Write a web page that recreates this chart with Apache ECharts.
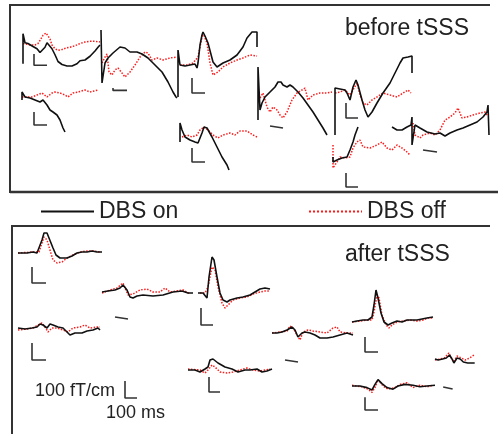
<!DOCTYPE html>
<html>
<head>
<meta charset="utf-8">
<title>DBS on / off traces</title>
<script src="https://cdn.jsdelivr.net/npm/echarts@6/dist/echarts.min.js"></script>
<style>
html, body { margin: 0; padding: 0; background: #fff; }
#main { width: 498px; height: 434px; }
</style>
</head>
<body>
<div id="main"></div>
<script>
// each trace: [time ms from trace start, amplitude]; Bar = the little L scale of that trace

// ---- before tSSS ----
var t1On = [[10,-125],[10,75],[30,15],[60,10],[80,0],[110,-10],[150,-25],[180,-50],[200,-60],[230,-15],[250,15],[270,10],[300,-25],[330,-65],[360,-110],[400,-130],[450,-140],[500,-140],[550,-125],[580,-105],[630,-100],[680,-75],[730,-40],[760,-15],[780,0]];
var t1Off = [[10,10],[50,5],[80,0],[130,0],[160,10],[180,30],[210,65],[240,80],[260,70],[280,40],[300,0],[330,-25],[360,-35],[400,-30],[440,-20],[480,-15],[530,-5],[580,10],[630,20],[680,25],[730,25],[780,20]];
var t1Bar = [[120,-60],[120,-135],[250,-135]];

var t2On = [[0,150],[10,-115],[40,-15],[70,10],[120,35],[190,65],[210,75],[240,60],[290,40],[360,40],[410,30],[470,10],[540,-25],[610,-60],[670,-110],[720,-160],[750,-185],[760,-190]];
var t2Off = [[10,-15],[40,15],[60,30],[80,-60],[110,-75],[140,-50],[170,-40],[210,-65],[240,-85],[290,-60],[340,-25],[390,15],[440,40],[470,35],[510,0],[560,10],[620,0],[690,10],[760,15]];
var t2Bar = [[120,-140],[120,-152],[260,-152]];

var t3On = [[0,-160],[0,75],[20,0],[70,-5],[120,0],[170,5],[190,-15],[200,10],[220,100],[240,150],[250,165],[270,145],[300,110],[350,15],[390,-10],[450,10],[520,25],[590,50],[650,90],[690,135],[740,165],[790,165],[790,90]];
var t3Off = [[20,0],[90,0],[150,10],[200,40],[240,140],[250,160],[290,110],[320,10],[350,-50],[400,-35],[450,-10],[520,10],[590,25],[650,35],[720,50],[740,60],[790,45]];
var t3Bar = [[140,-65],[140,-140],[270,-140]];

var t4On = [[0,-125],[0,140],[20,-75],[40,-40],[70,-10],[120,15],[170,40],[200,65],[230,65],[250,50],[290,40],[320,50],[350,40],[400,15],[450,-15],[500,-50],[550,-85],[600,-125],[650,-165],[690,-200]];
var t4Off = [[20,-15],[50,10],[90,-60],[120,-85],[150,-60],[190,-75],[220,-100],[250,-115],[290,-85],[340,-25],[390,10],[440,25],[470,35],[500,-25],[550,0],[620,10],[690,10],[740,15]];
var t4Bar = [[120,-155],[120,-165],[250,-165]];

var t5On = [[0,-225],[0,10],[50,5],[100,0],[120,-15],[150,-50],[170,-40],[180,15],[210,50],[230,25],[270,-50],[300,-100],[330,-135],[370,-110],[420,-65],[480,-15],[550,35],[600,85],[650,135],[680,160],[730,165],[770,170],[770,85]];
var t5Off = [[0,-15],[50,-10],[100,0],[150,-25],[180,0],[220,35],[250,-25],[280,-65],[320,-75],[370,-50],[420,-35],[480,-15],[550,-25],[620,-35],[680,-15],[730,0],[760,-15]];
var t5Bar = [[110,-65],[110,-140],[230,-140]];

var t6On = [[0,-15],[0,25],[30,0],[80,-5],[130,-15],[180,-25],[210,-15],[250,-40],[280,-65],[310,-75],[350,-90],[380,-115],[410,-155],[430,-175]];
var t6Off = [[0,0],[50,0],[100,0],[150,10],[200,20],[250,0],[300,20],[330,25],[380,20],[430,10],[460,0],[510,20],[560,25],[630,35],[680,25],[760,35]];
var t6Bar = [[120,-75],[120,-140],[250,-140]];

var t7On = [[0,-35],[0,60],[20,25],[50,-10],[100,-25],[150,-35],[180,-40],[220,10],[240,40],[270,35],[320,-10],[370,-60],[420,-110],[470,-150],[490,-175]];
var t7Off = [[20,-10],[70,0],[120,-10],[170,0],[200,25],[240,40],[280,25],[330,0],[380,-15],[430,0],[500,10],[550,0],[600,20],[670,20],[730,0],[770,-10]];
var t7Bar = [[120,-65],[120,-135],[250,-135]];

var t8On = [[0,0],[0,-25],[40,-15],[90,-5],[140,0],[170,35],[200,75],[220,110],[250,150]];
var t8Off = [[0,60],[0,-55],[40,-25],[70,0],[120,-5],[170,0],[200,45],[240,75],[270,85],[300,50],[370,45],[440,60],[490,75],[540,45],[590,35],[640,60],[690,45],[740,25],[770,10]];
var t8Bar = [[130,-80],[130,-150],[250,-150]];

var t9On = [[0,0],[50,-15],[100,-15],[150,0],[190,10],[200,50],[200,-90],[230,10],[280,-5],[350,-25],[430,-35],[480,-30],[530,-45],[580,-30],[650,-15],[710,-5],[780,10],[850,25],[910,50],[950,75],[960,110],[970,-40]];
var t9Off = [[210,20],[230,-40],[280,-55],[310,-40],[380,-30],[430,-40],[480,-15],[530,35],[580,50],[630,70],[660,95],[700,45],[750,50],[810,60],[880,70],[930,75],[950,60]];
var t9Bar = [[310,-115],[310,-125],[450,-125]];

// ---- after tSSS ----
var b1On = [[0,0],[90,0],[150,5],[190,0],[210,5],[240,65],[260,100],[290,100],[310,75],[350,25],[380,-10],[420,-25],[490,-25],[540,-15],[590,0],[640,5],[690,5],[740,10],[790,5],[840,5]];
var b1Off = [[0,0],[150,5],[210,5],[240,50],[260,80],[290,65],[320,15],[350,-35],[390,-50],[440,-45],[490,-25],[550,-10],[620,5],[690,10],[750,10],[820,5]];
var b1Bar = [[140,-70],[140,-150],[280,-150]];

var b2On = [[0,0],[60,5],[130,10],[180,20],[210,35],[250,10],[280,-25],[310,-30],[350,-20],[410,-15],[510,-20],[610,-15],[710,0],[800,5],[860,-5],[910,-5]];
var b2Off = [[0,-5],[80,10],[150,20],[210,45],[230,35],[260,-15],[310,-10],[380,10],[450,15],[510,0],[580,0],[630,20],[680,0],[750,5],[810,10],[880,-10]];
var b2Bar = [[130,-125],[130,-135],[260,-135]];

var b3On = [[0,0],[50,0],[90,-25],[110,80],[140,180],[160,165],[190,80],[220,0],[250,-35],[290,-45],[320,-35],[390,-25],[450,-20],[520,-10],[570,5],[620,20],[670,25],[720,20]];
var b3Off = [[20,0],[70,0],[100,30],[140,130],[170,115],[200,30],[240,-50],[270,-75],[300,-60],[350,-35],[420,-25],[490,-20],[550,-5],[620,5],[670,10],[720,10]];
var b3Bar = [[30,-75],[30,-160],[150,-160]];

var b4On = [[0,0],[70,-5],[140,0],[190,5],[220,20],[250,15],[290,0],[320,20],[350,15],[400,5],[450,0],[520,-35],[570,-25],[640,-25],[690,-15],[750,-10],[800,0],[820,-10]];
var b4Off = [[0,-10],[90,-5],[150,0],[200,15],[240,25],[270,5],[300,-20],[340,0],[390,0],[450,-10],[500,-20],[550,0],[620,5],[670,15],[720,0],[790,5],[820,5]];
var b4Bar = [[140,-75],[140,-160],[280,-160]];

var b5On = [[0,0],[50,0],[100,5],[150,15],[200,30],[230,15],[260,-20],[300,0],[330,5],[380,0],[430,-10],[480,-25],[550,-25],[610,-20],[680,-10],[750,0],[810,-10]];
var b5Off = [[0,0],[80,5],[150,10],[180,35],[210,25],[250,-10],[280,-35],[310,5],[360,15],[410,10],[480,5],[550,0],[610,25],[650,30],[680,5],[750,0],[810,0]];
var b5Bar = [[130,-135],[130,-145],[260,-145]];

var b6On = [[0,0],[70,0],[120,-10],[170,5],[200,15],[220,50],[250,55],[300,35],[370,15],[440,5],[500,-10],[570,0],[620,0],[690,5],[740,-10],[790,-5],[840,5]];
var b6Off = [[0,5],[120,0],[170,-15],[200,0],[240,25],[270,15],[320,-10],[390,-15],[450,-10],[520,0],[590,10],[650,0],[720,-5],[770,0],[820,5]];
var b6Bar = [[210,-35],[210,-110],[320,-110]];

var b7On = [[0,-10],[50,-5],[110,0],[160,0],[200,15],[220,75],[240,150],[260,110],[290,35],[320,-10],[360,-25],[400,-15],[450,-5],[500,-10],[550,0],[600,0],[650,0],[700,5],[750,10],[810,15]];
var b7Off = [[0,-10],[80,-5],[160,0],[200,0],[220,40],[250,125],[270,110],[300,25],[340,-25],[370,-40],[400,-25],[450,-10],[510,-5],[580,0],[650,-5],[710,0],[760,10],[810,10]];
var b7Bar = [[130,-85],[130,-160],[260,-160]];

var b8On = [[0,0],[50,-5],[120,0],[180,5],[230,20],[270,0],[300,-20],[350,5],[400,0],[450,-15],[520,-20],[580,-20],[630,-20]];
var b8Off = [[0,-5],[80,0],[150,5],[220,30],[250,10],[300,-15],[350,15],[420,5],[480,-5],[550,5],[620,20]];
var b8Bar = [[130,-140],[130,-150],[280,-150]];

var b9On = [[0,0],[80,0],[150,-10],[200,-25],[230,10],[260,40],[300,15],[350,-10],[410,-20],[460,0],[530,10],[610,5],[680,-5],[750,0],[830,5]];
var b9Off = [[0,5],[100,-5],[160,-20],[200,-40],[230,-10],[260,40],[280,30],[310,0],[360,-20],[430,-10],[480,10],[550,20],[610,-10],[680,5],[750,-5],[810,5]];
var b9Bar = [[130,-70],[130,-150],[260,-150]];

// calibration: 100 ms x 100 fT/cm
var scaleBar = [[0,100],[0,0],[100,0]];

// where each trace sits (left edge and baseline, px)
var traces = [
  {on: t1On, off: t1Off, bar: t1Bar, left: 22, mid: 30},
  {on: t2On, off: t2Off, bar: t2Bar, left: 101, mid: 60},
  {on: t3On, off: t3Off, bar: t3Bar, left: 178, mid: 65},
  {on: t4On, off: t4Off, bar: t4Bar, left: 258, mid: 95},
  {on: t5On, off: t5Off, bar: t5Bar, left: 335, mid: 90},
  {on: t6On, off: t6Off, bar: t6Bar, left: 22, mid: 97},
  {on: t7On, off: t7Off, bar: t7Bar, left: 180, mid: 135},
  {on: t8On, off: t8Off, bar: t8Bar, left: 333, mid: 157},
  {on: t9On, off: t9Off, bar: t9Bar, left: 392, mid: 127},
  {on: b1On, off: b1Off, bar: b1Bar, left: 18, mid: 253},
  {on: b2On, off: b2Off, bar: b2Bar, left: 102, mid: 292},
  {on: b3On, off: b3Off, bar: b3Bar, left: 198, mid: 293},
  {on: b4On, off: b4Off, bar: b4Bar, left: 18, mid: 328},
  {on: b5On, off: b5Off, bar: b5Bar, left: 272, mid: 333},
  {on: b6On, off: b6Off, bar: b6Bar, left: 188, mid: 370},
  {on: b7On, off: b7Off, bar: b7Bar, left: 352, mid: 320},
  {on: b8On, off: b8Off, bar: b8Bar, left: 435, mid: 359},
  {on: b9On, off: b9Off, bar: b9Bar, left: 352, mid: 398}
];

var FONT = '"Liberation Sans", Arial, Helvetica, sans-serif';
var myChart = echarts.init(document.getElementById('main'));

var grids = [], xAxes = [], yAxes = [], series = [];

traces.forEach(function (tr, i) {
  grids.push({left: tr.left, top: tr.mid - 60, width: 100, height: 120});
  xAxes.push({type: 'value', gridIndex: i, min: 0, max: 1000, show: false});
  yAxes.push({type: 'value', gridIndex: i, min: -300, max: 300, show: false});
  series.push({
    name: 'DBS off', type: 'line', xAxisIndex: i, yAxisIndex: i, data: tr.off,
    symbol: 'none', clip: false, z: 2,
    lineStyle: {color: '#ff1a1a', width: 1.5, type: 'dotted'},
    itemStyle: {color: '#ff1a1a'}
  });
  series.push({
    name: 'DBS on', type: 'line', xAxisIndex: i, yAxisIndex: i, data: tr.on,
    symbol: 'none', clip: false, z: 3,
    lineStyle: {color: '#111', width: 1.6},
    itemStyle: {color: '#111'}
  });
  series.push({
    name: 'scale' + i, type: 'line', xAxisIndex: i, yAxisIndex: i, data: tr.bar,
    symbol: 'none', clip: false, z: 3,
    lineStyle: {color: '#333', width: 1.6}
  });
});

// calibration L
var k = traces.length;
grids.push({left: 125, top: 381, width: 12, height: 17});
xAxes.push({type: 'value', gridIndex: k, min: 0, max: 100, show: false});
yAxes.push({type: 'value', gridIndex: k, min: 0, max: 100, show: false});
series.push({
  name: 'calib', type: 'line', xAxisIndex: k, yAxisIndex: k, data: scaleBar,
  symbol: 'none', clip: false, lineStyle: {color: '#333', width: 1.6}
});

var legendText = {fontSize: 23, color: '#222', fontFamily: FONT};

var option = {
  animation: false,
  backgroundColor: '#fff',
  grid: grids,
  xAxis: xAxes,
  yAxis: yAxes,
  legend: [
    {data: ['DBS on'], left: 35, top: 195, itemWidth: 53, itemHeight: 14, selectedMode: false,
      itemStyle: {opacity: 0}, textStyle: legendText},
    {data: ['DBS off'], left: 303, top: 195, itemWidth: 53, itemHeight: 14, selectedMode: false,
      itemStyle: {opacity: 0}, textStyle: legendText}
  ],
  graphic: [
    {type: 'line', shape: {x1: 10, y1: 5, x2: 490, y2: 5}, style: {stroke: '#333', lineWidth: 2}},
    {type: 'line', shape: {x1: 10, y1: 4, x2: 10, y2: 193}, style: {stroke: '#333', lineWidth: 2}},
    {type: 'line', shape: {x1: 10, y1: 192, x2: 498, y2: 192}, style: {stroke: '#333', lineWidth: 2.5}},
    {type: 'line', shape: {x1: 12, y1: 226, x2: 490, y2: 226}, style: {stroke: '#333', lineWidth: 2}},
    {type: 'line', shape: {x1: 12, y1: 225, x2: 12, y2: 434}, style: {stroke: '#333', lineWidth: 2}},
    {type: 'text', x: 345, y: 29, style: {text: 'before tSSS', fontSize: 23, fontFamily: FONT, fill: '#222', verticalAlign: 'middle'}},
    {type: 'text', x: 345, y: 255, style: {text: 'after tSSS', fontSize: 23, fontFamily: FONT, fill: '#222', verticalAlign: 'middle'}},
    {type: 'text', x: 35, y: 391, style: {text: '100 fT/cm', fontSize: 18, fontFamily: FONT, fill: '#222', verticalAlign: 'middle'}},
    {type: 'text', x: 106, y: 413, style: {text: '100 ms', fontSize: 18, fontFamily: FONT, fill: '#222', verticalAlign: 'middle'}}
  ],
  series: series
};

myChart.setOption(option);
window.addEventListener('resize', function () {
  myChart.resize();
});
</script>
</body>
</html>
